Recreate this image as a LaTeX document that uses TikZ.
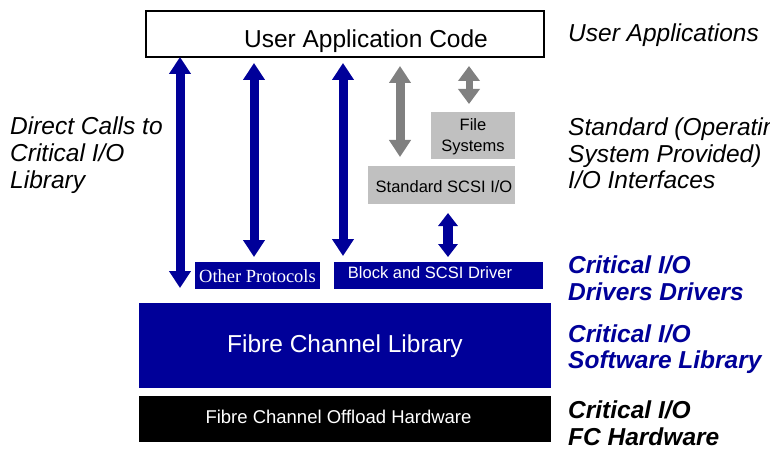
\documentclass[tikz,border=0pt]{standalone}
\usepackage{fontspec}
\setmainfont{Liberation Sans}
\newfontfamily\protofont{Liberation Serif}
\usetikzlibrary{arrows.meta,positioning}

\definecolor{fcblue}{RGB}{0,0,153}
\definecolor{stdgray}{RGB}{192,192,192}
\definecolor{arrgray}{RGB}{128,128,128}

\begin{document}
\begin{tikzpicture}[x=1pt,y=-1pt,
  box/.style={anchor=north west,inner sep=0pt,outer sep=0pt,text depth=0pt},
  bluebox/.style={box,fill=fcblue,text=white},
  graybox/.style={box,fill=stdgray,text=black},
  bigtip/.style={{Triangle[width=21pt,length=17pt]}-{Triangle[width=21pt,length=17pt]}},
  bluearrow/.style={bigtip,line width=9pt,draw=fcblue,fill=fcblue},
  grayarrow/.style={bigtip,line width=9pt,draw=arrgray,fill=arrgray},
  sidelabel/.style={anchor=base west,inner sep=0pt,align=left,
    font=\fontsize{24.5}{26.5}\selectfont\itshape}]

\useasboundingbox (0,0) rectangle (770,449);
\clip (0,0) rectangle (770,449);
\fill[white] (0,0) rectangle (770,449);

% boxes
\node[box,draw=black,line width=1.2pt,minimum width=398pt,minimum height=46pt,
  text height=28pt,font=\fontsize{24.5}{26}\selectfont] (app) at (146,11)
  {\hspace*{42pt}User Application Code};
\node[graybox,minimum width=84pt,minimum height=47pt,align=center,
  font=\fontsize{16.5}{21}\selectfont] (files) at (431,112) {File\\Systems};
\node[graybox,minimum width=147pt,minimum height=38pt,text height=16pt,
  font=\fontsize{16.5}{18}\selectfont] (scsi) at (368,166)
  {\hspace*{5pt}Standard SCSI I/O};
\node[bluebox,minimum width=125pt,minimum height=27pt,text height=13pt,
  font=\protofont\fontsize{18.5}{20}\selectfont] (other) at (195,262)
  {Other Protocols};
\node[bluebox,minimum width=209pt,minimum height=27pt,text height=5pt,
  font=\fontsize{16.5}{18}\selectfont] (driver) at (334,262)
  {Block and SCSI Driver\hspace*{17pt}};
\node[bluebox,minimum width=412pt,minimum height=85pt,text height=13pt,
  font=\fontsize{24.5}{26}\selectfont] (lib) at (139,303)
  {Fibre Channel Library};
\node[box,fill=black,text=white,minimum width=412pt,minimum height=46pt,
  text height=8pt,font=\fontsize{18.5}{20}\selectfont] (hw) at (139,396)
  {Fibre Channel Offload Hardware\hspace*{13pt}};

% arrows
\draw[bluearrow,shorten >=15pt] ([xshift=34pt]app.south west) -- ([xshift=41pt]lib.north west);
\draw[bluearrow,shorten <=6pt,shorten >=5pt] ([xshift=108pt]app.south west) -- ([xshift=59pt]other.north west);
\draw[bluearrow,shorten <=6pt,shorten >=6pt] ([xshift=197pt]app.south west) -- ([xshift=9pt]driver.north west);
\draw[grayarrow,shorten <=9pt,shorten >=9pt] ([xshift=254pt]app.south west) -- ([xshift=32pt]scsi.north west);
\draw[draw=arrgray,fill=arrgray,line width=7pt,{Triangle[width=21pt,length=15pt]}-{Triangle[width=21pt,length=15pt]},
  shorten <=9pt,shorten >=8pt] ([xshift=323pt]app.south west) -- ([xshift=38pt]files.north west);
\draw[draw=fcblue,fill=fcblue,line width=10pt,{Triangle[width=19pt,length=13pt]}-{Triangle[width=19pt,length=13pt]},
  shorten <=9pt,shorten >=5pt] ([xshift=80pt]scsi.south west) -- ([xshift=114pt]driver.north west);

% labels (base = last line)
\node[sidelabel] (direct) at (10,188) {Direct Calls to\\Critical I/O\\Library};
\node[sidelabel] (userapp) at (568,42) {User Applications};
\node[sidelabel] (stdif) at (568,189) {Standard (Operating\\System Provided)\\I/O Interfaces};
\node[sidelabel,text=fcblue,font=\fontsize{24.5}{27}\selectfont\bfseries\itshape] (drvlab) at (568,300)
  {Critical I/O\\Drivers Drivers};
\node[sidelabel,text=fcblue,font=\fontsize{24.5}{26}\selectfont\bfseries\itshape] (swlab) at (568,368)
  {Critical I/O\\Software Library};
\node[sidelabel,font=\fontsize{24.5}{26.5}\selectfont\bfseries\itshape] (hwlab) at (568,445)
  {Critical I/O\\FC Hardware};
\end{tikzpicture}
\end{document}
